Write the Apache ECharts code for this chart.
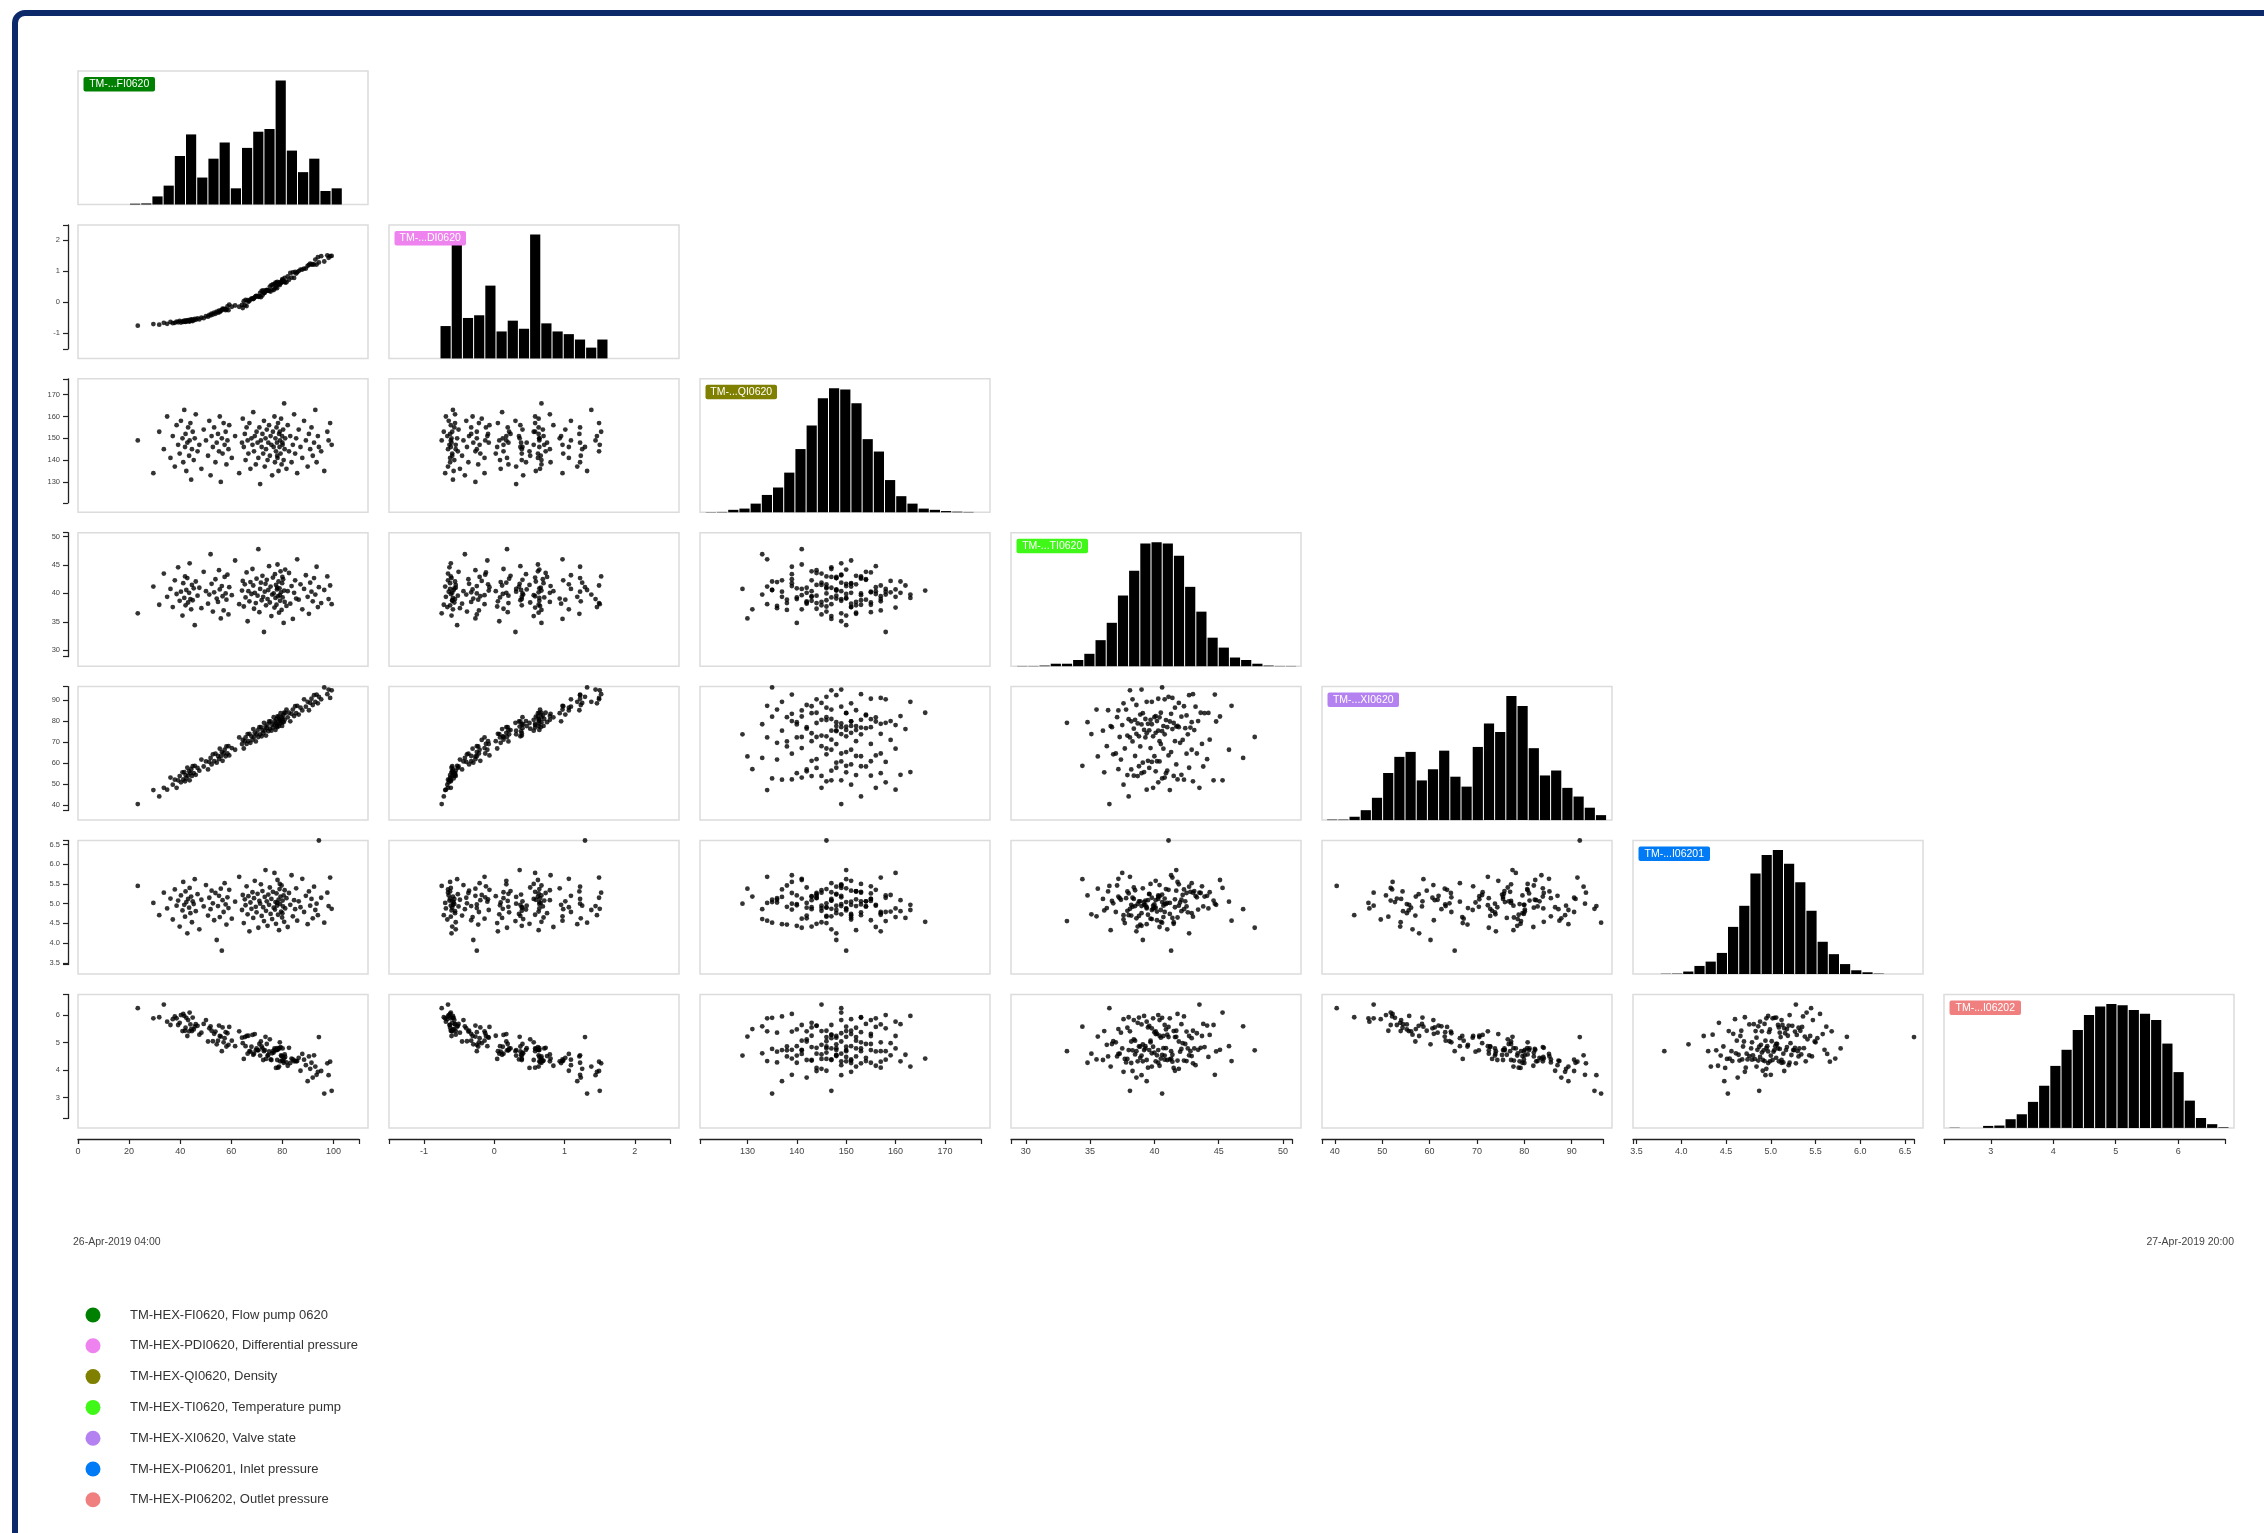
<!DOCTYPE html>
<html><head><meta charset="utf-8">
<script src="https://cdn.jsdelivr.net/npm/echarts/dist/echarts.min.js"></script>
<style>html,body{margin:0;padding:0;background:#fff;}#c{width:2264px;height:1533px;}</style>
</head><body><div id="c"></div>
<script>
// ---------------- DATA ----------------
const varNames = ['TM-HEX-FI0620, Flow pump 0620','TM-HEX-PDI0620, Differential pressure','TM-HEX-QI0620, Density','TM-HEX-TI0620, Temperature pump','TM-HEX-XI0620, Valve state','TM-HEX-PI06201, Inlet pressure','TM-HEX-PI06202, Outlet pressure'];
const tagLabels = ['TM-...FI0620','TM-...DI0620','TM-...QI0620','TM-...TI0620','TM-...XI0620','TM-...I06201','TM-...I06202'];
const varColors = ['#008000','#ee82ee','#808000','#40f818','#b482f0','#007af5','#f08080'];
const dateStart = '26-Apr-2019 04:00';
const dateEnd = '27-Apr-2019 20:00';

// samples (one value per time stamp)
const fi = [23.4,29.5,31.8,33.6,34.9,36.2,37.1,37.9,38.6,39.2,39.8,40.3,40.9,41.2,41.6,41.9,42.1,42.4,42.8,43.1,43.5,43.7,44.0,44.3,44.6,44.9,45.3,45.7,46.1,46.8,47.5,48.3,49.2,50.1,50.9,51.4,51.9,52.3,52.8,53.3,53.8,54.3,54.8,55.2,55.5,55.9,56.3,56.6,57.0,57.4,57.8,58.1,58.5,58.9,59.2,60.2,61.5,63.1,64.2,64.5,64.9,65.3,65.6,66.0,66.4,66.7,67.1,67.5,67.9,68.3,68.6,68.9,69.2,69.6,69.9,70.3,70.6,71.0,71.3,71.6,71.9,72.2,72.5,72.8,73.1,73.4,73.6,73.9,74.2,74.5,74.8,75.1,75.4,75.7,76.0,76.3,76.6,76.9,77.1,77.3,77.5,77.7,77.9,78.1,78.3,78.5,78.7,78.9,79.1,79.3,79.5,79.7,79.9,80.1,80.3,80.5,80.7,80.9,81.1,78.0,79.0,80.0,81.6,82.1,82.6,83.1,83.6,84.1,84.6,85.0,85.4,85.8,86.4,87.1,87.8,88.5,89.2,89.9,90.4,90.9,91.4,91.9,92.4,92.9,93.4,93.9,94.3,95.2,96.4,97.6,98.1,98.7,99.3];
const pdi = [-0.75,-0.70,-0.72,-0.66,-0.69,-0.63,-0.67,-0.66,-0.62,-0.64,-0.60,-0.65,-0.61,-0.63,-0.59,-0.62,-0.63,-0.58,-0.61,-0.57,-0.60,-0.62,-0.56,-0.59,-0.55,-0.60,-0.57,-0.53,-0.56,-0.52,-0.55,-0.49,-0.51,-0.44,-0.46,-0.40,-0.42,-0.36,-0.39,-0.33,-0.37,-0.30,-0.33,-0.27,-0.31,-0.27,-0.25,-0.20,-0.22,-0.21,-0.25,-0.23,-0.13,-0.25,-0.07,-0.14,-0.10,-0.14,-0.08,-0.18,0.04,-0.09,0.08,-0.12,0.07,0.02,0.05,0.09,0.12,0.13,0.11,0.13,0.17,0.20,0.21,0.20,0.18,0.19,0.31,0.17,0.37,0.23,0.39,0.30,0.31,0.36,0.39,0.40,0.39,0.38,0.37,0.51,0.35,0.56,0.41,0.58,0.40,0.58,0.45,0.64,0.50,0.63,0.46,0.62,0.58,0.59,0.63,0.64,0.64,0.62,0.63,0.67,0.70,0.71,0.69,0.67,0.67,0.79,0.64,0.66,0.56,0.75,0.65,0.84,0.73,0.95,0.80,0.97,0.79,0.98,0.93,0.97,1.01,1.06,1.06,1.09,1.09,1.18,1.21,1.25,1.22,1.23,1.22,1.38,1.22,1.46,1.29,1.49,1.32,1.52,1.44,1.49,1.50];
const qi = [149,134,153,145,160,141,151,137,156,147,143,158,150,139,163,146,152,135,148,155,142,149,157,131,145,153,140,150,161,144,147,136,154,149,142,158,133,151,146,155,139,148,152,144,160,130,150,143,157,147,153,138,149,145,156,141,151,134,148,159,146,152,140,155,149,143,157,136,150,147,162,144,151,138,153,148,141,155,129,149,146,152,143,158,137,150,145,154,140,148,156,142,151,147,133,153,146,160,139,150,144,155,148,141,157,135,152,146,149,143,159,138,151,147,154,140,166,145,150,142,153,148,136,156,144,151,139,147,161,143,150,134,154,146,141,158,149,137,152,145,155,142,148,163,139,151,146,144,135,153,149,157,147];
const ti = [36.5,41.2,38.0,43.5,39.4,40.8,37.6,42.3,39.9,44.6,38.7,40.3,36.1,41.8,39.2,43.0,37.9,40.6,42.7,38.4,40.1,45.3,39.0,37.2,41.5,38.8,40.9,34.4,42.1,39.6,41.0,37.4,43.8,40.4,38.2,39.8,46.9,41.7,36.8,40.2,42.5,39.1,38.5,44.1,40.7,35.6,41.3,39.5,37.0,42.9,40.0,38.9,43.3,36.3,41.1,39.7,45.8,38.1,40.5,42.2,37.7,41.6,39.3,43.7,35.1,40.4,38.6,42.0,39.9,44.3,41.4,37.3,40.1,38.3,42.6,39.6,47.8,36.7,40.8,41.9,38.8,43.1,39.4,33.2,40.3,41.7,37.9,42.4,39.0,40.6,44.8,38.4,41.2,36.0,39.8,42.8,40.0,37.5,43.4,39.2,41.5,38.0,40.7,45.1,39.5,42.1,36.6,40.9,38.7,43.9,40.2,37.1,41.8,39.3,42.5,34.8,40.5,38.5,44.2,41.0,39.7,42.9,37.8,40.4,43.6,38.2,41.3,35.5,40.1,42.3,39.1,46.0,38.9,41.6,37.2,40.8,43.2,39.4,36.4,41.9,40.3,38.6,42.7,39.8,44.7,37.6,41.1,38.3,40.6,43.0,39.0,41.4,38.1];
const xi = [40.4,47.1,44.1,48.2,47.3,53.1,49.7,52.1,48.2,51.8,53.8,50.8,55.6,52.2,55.7,51.3,54.3,52.7,57.8,54.0,56.1,51.8,55.2,57.1,53.9,58.5,55.2,58.7,54.4,57.7,56.4,61.7,58.4,60.8,57.0,60.6,62.5,59.4,64.2,60.9,64.5,60.2,63.4,61.9,66.9,63.2,65.3,61.1,64.6,66.4,63.3,68.0,64.6,68.1,63.7,67.2,66.4,72.3,69.1,71.1,67.0,70.5,72.3,69.2,73.9,70.5,74.0,69.7,72.8,71.2,76.3,72.5,74.5,70.4,73.8,75.7,72.5,77.2,73.8,77.2,72.8,75.8,74.3,79.3,75.5,77.5,73.2,76.7,78.5,75.3,79.9,76.5,79.9,75.5,78.6,77.0,82.0,78.2,80.1,75.9,79.2,81.0,77.7,82.3,78.8,82.2,77.7,80.6,79.0,83.9,80.1,82.0,77.8,81.1,82.8,79.6,84.1,80.7,84.0,77.2,80.7,79.6,85.6,81.9,84.1,80.0,83.6,85.6,82.5,87.2,83.9,87.4,83.2,86.5,85.2,90.5,87.0,89.3,85.3,88.8,90.8,87.8,92.5,89.3,92.8,88.6,91.7,90.5,96.2,93.0,95.2,91.2,94.8];
const pi1 = [5.45,5.02,4.71,5.28,4.88,5.13,4.60,5.36,4.95,5.08,4.42,5.21,4.83,5.55,4.97,4.67,5.31,5.04,4.25,5.12,4.90,5.40,4.76,5.18,4.53,5.06,4.99,5.62,4.81,5.24,4.35,5.10,4.93,5.47,4.70,5.15,4.86,5.33,5.01,4.58,5.27,4.08,4.94,5.20,4.66,5.38,3.81,5.09,4.79,5.52,4.98,4.47,5.16,4.89,5.35,4.62,5.05,5.68,4.84,5.22,4.51,5.11,4.96,5.44,4.73,5.19,4.30,5.03,4.87,5.29,4.64,5.14,5.58,4.92,4.78,5.25,4.39,5.07,5.00,5.49,4.69,5.32,4.91,4.56,5.17,5.85,4.82,5.06,4.44,5.23,4.97,5.41,4.74,5.12,4.61,5.30,4.90,5.78,4.85,5.04,4.49,5.26,4.95,5.60,4.72,5.10,4.33,5.37,4.99,5.18,4.80,5.46,4.65,5.08,4.93,5.21,4.54,5.34,4.88,5.02,5.50,4.76,5.14,4.41,5.27,4.97,5.72,4.68,5.09,4.86,5.39,4.57,5.06,4.91,5.63,4.79,5.20,4.48,5.31,4.95,5.12,4.63,5.43,4.84,5.00,4.71,6.60,5.15,4.52,5.28,4.94,5.66,4.87];
const pi2 = [6.25,5.88,5.92,6.38,5.76,5.64,5.85,5.95,5.88,5.64,5.72,6.00,5.42,6.04,5.97,5.43,5.54,5.90,5.24,5.82,5.41,6.09,5.66,5.49,5.42,5.91,5.48,5.58,5.67,5.61,5.29,5.36,5.68,5.82,5.04,5.52,5.59,5.43,5.05,5.32,5.40,4.94,5.07,5.62,5.24,5.22,4.69,5.55,5.01,5.16,5.38,4.86,5.34,4.92,5.57,5.07,4.87,5.41,5.18,4.98,4.41,5.20,4.87,5.24,4.60,5.25,4.69,4.67,4.85,5.28,4.56,4.60,5.31,4.72,4.79,4.73,4.72,4.95,4.53,5.04,4.86,4.79,4.37,4.69,4.73,5.21,4.41,4.95,4.53,4.55,4.68,5.12,4.39,4.37,4.61,4.69,4.64,4.79,4.74,4.73,4.08,4.73,4.80,4.74,4.09,4.77,4.13,4.80,4.32,4.84,4.54,4.50,4.35,4.79,4.33,4.27,4.42,4.57,4.48,4.37,5.01,4.51,4.28,4.16,4.81,4.26,4.42,4.39,4.32,4.35,4.32,4.33,4.45,3.98,4.59,4.38,4.18,3.60,4.50,4.05,4.27,3.73,4.54,4.13,3.83,3.94,5.20,3.97,3.15,4.25,3.82,4.31,3.25];

// histogram bin counts (diagonal)
const fiHist  = [0.3,0.4,3,7,18,26,10,17,23,6,21,27,28,46,20,12,17,5,6];
const pdiHist = [12,44,15,16,27,10,14,11,46,13,10,9,7,4,7];
const qiHist  = [0.2,0.3,2,3,7,14,20,32,51,70,92,100,99,88,59,49,26,13,7,3,2,1,0.5,0.3];
const tiHist  = [0.2,0.2,0.5,2,2,5,10,21,35,57,77,99,100,99,89,64,44,23,15,7,5,2,0.5,0.2,0.2];
const xiHist  = [0.4,0.4,2.7,8,18,38,51,55,32,41,56,35,27,59,78,71,100,92,58,36,40,26,19,10,4];
const pi1Hist = [0.2,0.3,2,6.5,10,17,38,55,81,96,100,89,74,51,26,16,8,3,1.4,0.3];
const pi2Hist = [0.2,0,0,1.6,1.9,7,11,21,34,50,63,79,91,98,100,99,95,92,87,68,45,22,8,3,0.5];

// axis domains and tick labels per variable
const axisDomains = [[0,110],[-1.5,2.5],[120.4,177.3],[28.85,50.7],[37.3,96.6],[3.46,6.6],[2.25,6.75]];
const axisTicks = [[0,20,40,60,80,100],[-1,0,1,2],[130,140,150,160,170],[30,35,40,45,50],[40,50,60,70,80,90],[3.5,4.0,4.5,5.0,5.5,6.0,6.5],[3,4,5,6]];
const tickDecimals = [0,0,0,0,0,1,0];

// ---------------- LAYOUT ----------------
const samples = [fi, pdi, qi, ti, xi, pi1, pi2];
const hists = [fiHist, pdiHist, qiHist, tiHist, xiHist, pi1Hist, pi2Hist];
const FONT = '"Liberation Sans", Arial, Helvetica, sans-serif';
const COL0 = 78, PX = 311, CELL_W = 290, PLOT_W = 281;
const ROW0 = 71, PY = 153.9, CELL_H = 133.5, PLOT_H = 124;
const BIN_W = 11.2;
const histLeft = [129.5, 440, 705.3, 1016.6, 1326.6, 1660.3, 1949];
const N = 7;

const grids = [], xAxes = [], yAxes = [], series = [], graphics = [];
function addGrid(g) { grids.push(g); return grids.length - 1; }

// frame
graphics.push({type:'rect', shape:{x:15, y:13, width:2400, height:1700, r:10}, style:{fill:'none', stroke:'#0c2a6a', lineWidth:6}, z:0});

for (let i = 0; i < N; i++) {
  const cy = ROW0 + PY * i;
  for (let j = 0; j <= i; j++) {
    const cx = COL0 + PX * j;
    graphics.push({type:'rect', shape:{x:cx, y:cy, width:CELL_W, height:CELL_H}, style:{fill:'#fff', stroke:'#dcdcdc', lineWidth:1.5}, z:0});
    if (i > j) {
      const g = addGrid({left:cx, top:cy, width:PLOT_W, height:PLOT_H});
      xAxes.push({gridIndex:g, type:'value', min:axisDomains[j][0], max:axisDomains[j][1], show:false});
      yAxes.push({gridIndex:g, type:'value', min:axisDomains[i][0], max:axisDomains[i][1], show:false});
      series.push({type:'scatter', xAxisIndex:xAxes.length-1, yAxisIndex:yAxes.length-1,
        data: samples[j].map((v,k)=>[v, samples[i][k]]), symbolSize:4.8,
        itemStyle:{color:'#000'}, silent:true, clip:false});
    } else {
      const h = hists[i];
      const g = addGrid({left:histLeft[i], top:cy + CELL_H - PLOT_H, width:h.length*BIN_W, height:PLOT_H});
      xAxes.push({gridIndex:g, type:'category', data:h.map((_,k)=>k), show:false});
      yAxes.push({gridIndex:g, type:'value', min:0, max:Math.max(...h), show:false});
      series.push({type:'bar', xAxisIndex:xAxes.length-1, yAxisIndex:yAxes.length-1,
        data:h, barCategoryGap:'9%', itemStyle:{color:'#000'}, silent:true});
      graphics.push({type:'rect', shape:{x:cx+5.5, y:cy+6, width:71.5, height:14.5, r:2}, style:{fill:varColors[i]}, z:100});
      graphics.push({type:'text', x:cx+5.5+35.75, y:cy+13.4, style:{text:tagLabels[i], fill:'#fff', font:'10.5px ' + FONT, textAlign:'center', textVerticalAlign:'middle'}, z:101});
    }
  }
}

// bottom axes
for (let j = 0; j < N; j++) {
  const cx = COL0 + PX * j;
  const d = axisDomains[j];
  const g = addGrid({left:cx, top:1138, width:PLOT_W, height:1});
  xAxes.push({gridIndex:g, type:'value', min:d[0], max:d[1], position:'bottom',
    axisLine:{show:true, onZero:false, lineStyle:{color:'#222', width:1.3}},
    axisTick:{show:true, length:5, customValues:[d[0]].concat(axisTicks[j], [d[1]]), lineStyle:{color:'#222', width:1.2}},
    axisLabel:{show:true, customValues:axisTicks[j], fontSize:9, color:'#444', margin:8, fontFamily:FONT,
      formatter:(v)=>Number(v).toFixed(tickDecimals[j])},
    splitLine:{show:false}});
  yAxes.push({gridIndex:g, type:'value', min:0, max:1, show:false});
}
// left axes
for (let i = 1; i < N; i++) {
  const cy = ROW0 + PY * i;
  const d = axisDomains[i];
  const g = addGrid({left:68, top:cy, width:1, height:PLOT_H});
  xAxes.push({gridIndex:g, type:'value', min:0, max:1, show:false});
  yAxes.push({gridIndex:g, type:'value', min:d[0], max:d[1], position:'left',
    axisLine:{show:true, onZero:false, lineStyle:{color:'#222', width:1.3}},
    axisTick:{show:true, length:5, customValues:[d[0]].concat(axisTicks[i], [d[1]]), lineStyle:{color:'#222', width:1.2}},
    axisLabel:{show:true, customValues:axisTicks[i], fontSize:7.5, color:'#444', margin:8, fontFamily:FONT,
      formatter:(v)=>Number(v).toFixed(tickDecimals[i])},
    splitLine:{show:false}});
}

// dates
graphics.push({type:'text', x:73, y:1242, style:{text:dateStart, fill:'#444', font:'10.5px ' + FONT, textAlign:'left', textVerticalAlign:'middle'}});
graphics.push({type:'text', x:2234, y:1242, style:{text:dateEnd, fill:'#444', font:'10.5px ' + FONT, textAlign:'right', textVerticalAlign:'middle'}});

// legend
for (let k = 0; k < N; k++) {
  const y = 1315 + 30.8 * k;
  graphics.push({type:'circle', shape:{cx:93, cy:y, r:7.5}, style:{fill:varColors[k]}});
  graphics.push({type:'text', x:130, y:y, style:{text:varNames[k], fill:'#333', font:'13px ' + FONT, textAlign:'left', textVerticalAlign:'middle'}});
}

const chart = echarts.init(document.getElementById('c'), null, {renderer:'canvas', width:2264, height:1533});
chart.setOption({
  animation:false,
  backgroundColor:'#fff',
  grid:grids, xAxis:xAxes, yAxis:yAxes, series:series,
  graphic:{elements:graphics}
});
</script></body></html>
